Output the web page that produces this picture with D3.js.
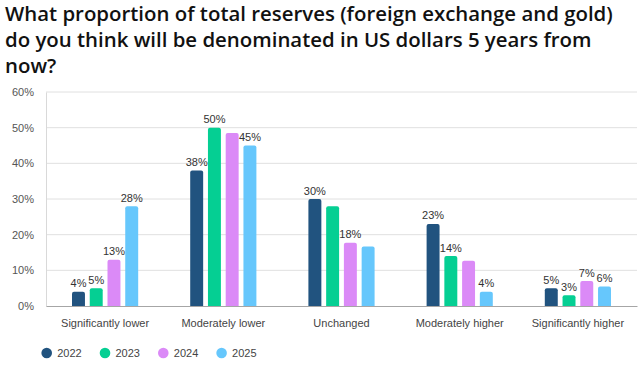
<!DOCTYPE html>
<html>
<head>
<meta charset="utf-8">
<script src="https://cdn.jsdelivr.net/npm/d3@7"></script>
<style>
  body { margin: 0; background: #fff; }
</style>
</head>
<body>
<div id="chart"></div>
<script>
// Data
let categories = ['Significantly lower', 'Moderately lower', 'Unchanged', 'Moderately higher', 'Significantly higher'];
let years = ['2022', '2023', '2024', '2025'];
let v2022 = [4, 38, 30, 23, 5];
let v2023 = [5, 50, 28, 14, 3];
let v2024 = [13, 48.5, 17.7, 12.7, 7];
let v2025 = [28, 45, 16.7, 4, 5.5];
// labels that are printed above bars (null = no label in the original)
let lab2022 = ['4%', '38%', '30%', '23%', '5%'];
let lab2023 = ['5%', '50%', null, '14%', '3%'];
let lab2024 = ['13%', null, '18%', null, '7%'];
let lab2025 = ['28%', '45%', null, '4%', '6%'];
let yTicks = [0, 10, 20, 30, 40, 50, 60];
let colors = ['#21537f', '#05cf93', '#db8af7', '#66c7fc'];

let series = [v2022, v2023, v2024, v2025];
let labels = [lab2022, lab2023, lab2024, lab2025];

let data = [];
categories.forEach((c, i) => {
  years.forEach((y, j) => {
    data.push({cat: c, year: y, value: series[j][i], label: labels[j][i], color: colors[j]});
  });
});

let width = 640, height = 365;
let margin = {top: 92, bottom: 59, left: 46, right: 3};

let svg = d3.select('#chart')
  .append('svg')
  .attr('width', width)
  .attr('height', height)
  .style('font-family', 'Arial, "Liberation Sans", sans-serif');

// title
let title = [
  'What proportion of total reserves (foreign exchange and gold)',
  'do you think will be denominated in US dollars 5 years from',
  'now?'
];
svg.append('g').selectAll('text')
  .data(title)
  .enter()
  .append('text')
  .attr('x', 5)
  .attr('y', (d, i) => 21 + i * 26)
  .text(d => d)
  .style('font-family', '"Open Sans", "Noto Sans", sans-serif')
  .style('font-size', '20.4px')
  .style('font-weight', 600)
  .style('fill', '#111');

let yScale = d3.scaleLinear()
  .domain([0, 60])
  .range([height - margin.bottom, margin.top]);

let x0 = d3.scaleBand()
  .domain(categories)
  .range([margin.left, width - margin.right])
  .paddingInner(0.44)
  .paddingOuter(0.22);

let x1 = d3.scaleBand()
  .domain(years)
  .range([0, x0.bandwidth()])
  .paddingInner(0.27);

// grid
svg.append('g')
  .selectAll('line')
  .data(yTicks.slice(1))
  .enter()
  .append('line')
  .attr('x1', margin.left)
  .attr('x2', width - margin.right)
  .attr('y1', d => yScale(d))
  .attr('y2', d => yScale(d))
  .attr('stroke', '#e0e0e0')
  .attr('stroke-width', 1);

// left axis
let yAxis = svg.append('g')
  .attr('transform', `translate(${margin.left},0)`)
  .call(d3.axisLeft(yScale).tickValues(yTicks).tickSize(0).tickPadding(12).tickFormat(d => d + '%'));
yAxis.select('.domain').attr('stroke', '#d9d9d9');
yAxis.selectAll('text').style('font-size', '11px').style('fill', '#555');

// bottom axis
let xAxis = svg.append('g')
  .attr('transform', `translate(0,${height - margin.bottom})`)
  .call(d3.axisBottom(x0).tickSize(0).tickPadding(13));
xAxis.select('.domain').attr('stroke', '#a6a6a6');
xAxis.selectAll('text').style('font-size', '11px').style('fill', '#444');

// bars
svg.append('g')
  .selectAll('path')
  .data(data)
  .enter()
  .append('path')
  .attr('d', d => {
    let x = x0(d.cat) + x1(d.year), w = x1.bandwidth();
    let y = yScale(d.value), b = yScale(0), r = 2;
    return `M${x},${b}V${y + r}Q${x},${y} ${x + r},${y}H${x + w - r}Q${x + w},${y} ${x + w},${y + r}V${b}Z`;
  })
  .attr('fill', d => d.color);

// value labels
svg.append('g')
  .selectAll('text')
  .data(data.filter(d => d.label))
  .enter()
  .append('text')
  .attr('x', d => x0(d.cat) + x1(d.year) + x1.bandwidth() / 2)
  .attr('y', d => yScale(d.value) - 4.5)
  .attr('text-anchor', 'middle')
  .text(d => d.label)
  .style('font-size', '11px')
  .style('fill', '#333');

// legend
let legend = svg.append('g')
  .selectAll('g')
  .data(years)
  .enter()
  .append('g')
  .attr('transform', (d, i) => `translate(${46.7 + i * 58.3},353)`);
legend.append('circle')
  .attr('r', 5.3)
  .attr('fill', (d, i) => colors[i]);
legend.append('text')
  .attr('x', 10.5)
  .attr('y', 4)
  .text(d => d)
  .style('font-size', '11px')
  .style('fill', '#444');
</script>
</body>
</html>
